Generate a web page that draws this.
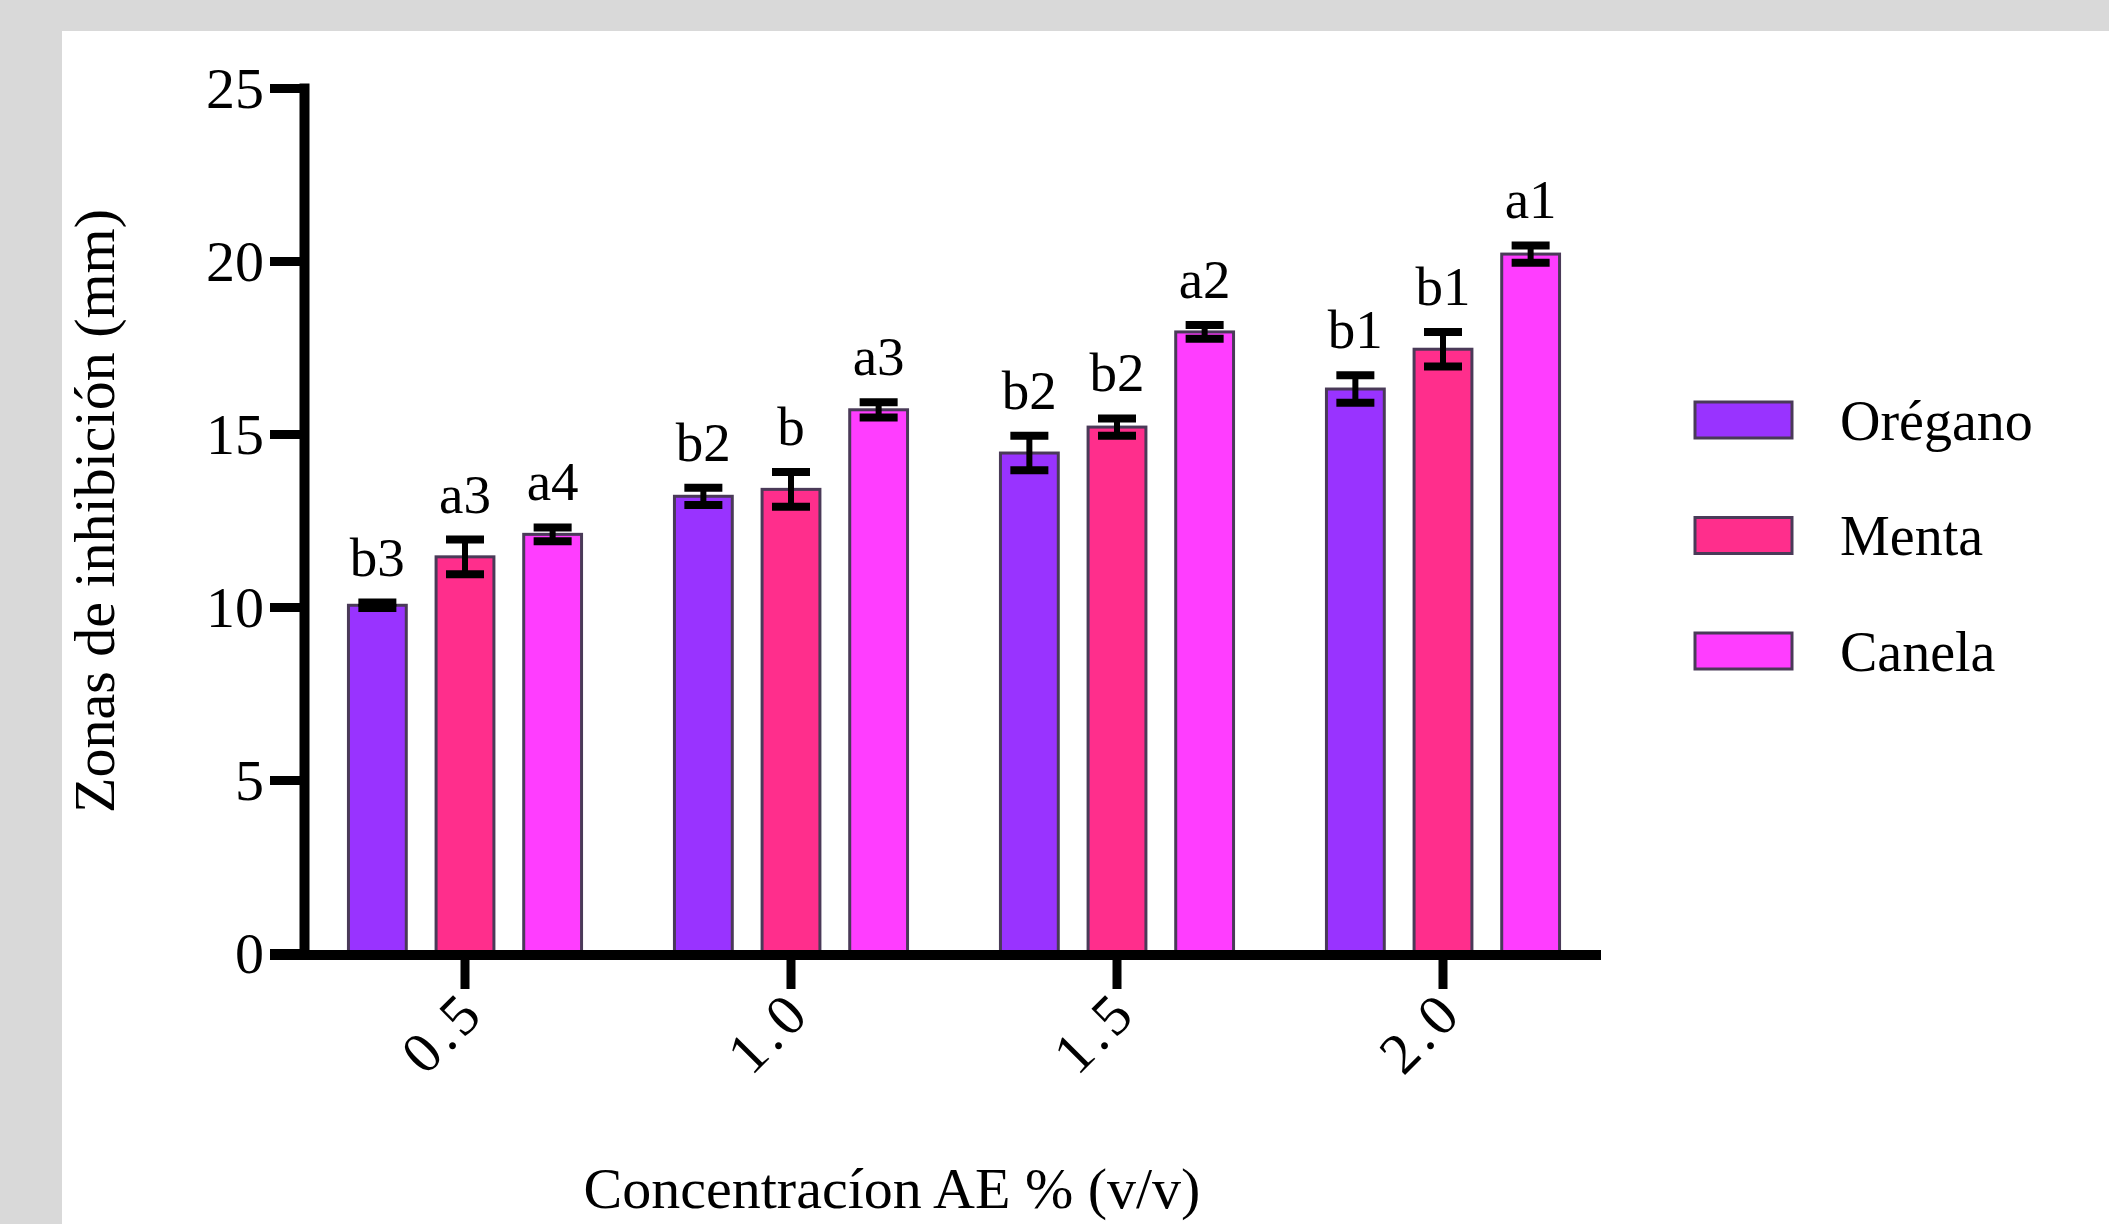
<!DOCTYPE html>
<html>
<head>
<meta charset="utf-8">
<script src="https://cdn.jsdelivr.net/npm/d3@7"></script>
<style>
  html, body { margin: 0; padding: 0; background: #d9d9d9; }
  svg { display: block; }
  text { font-family: 'Liberation Serif', 'DejaVu Serif', serif; fill: #000; }
</style>
</head>
<body>
<script>
'use strict';

// chart values
const concentrations = ['0.5', '1.0', '1.5', '2.0'];
const seriesNames = ['Orégano', 'Menta', 'Canela'];
const seriesColors = ['#9933ff', '#ff2e8c', '#ff3dff'];

const oreganoMeans = [10.05, 13.2, 14.45, 16.3];
const oreganoErrors = [0.08, 0.25, 0.5, 0.4];
const oreganoLetters = ['b3', 'b2', 'b2', 'b1'];

const mentaMeans = [11.45, 13.4, 15.2, 17.45];
const mentaErrors = [0.5, 0.5, 0.25, 0.5];
const mentaLetters = ['a3', 'b', 'b2', 'b1'];

const canelaMeans = [12.1, 15.7, 17.95, 20.2];
const canelaErrors = [0.2, 0.22, 0.2, 0.25];
const canelaLetters = ['a4', 'a3', 'a2', 'a1'];

const yTicks = [0, 5, 10, 15, 20, 25];

(function() {
  const width = 2109;
  const height = 1224;
  let svg = '';

  window.onload = function() {
    svg = d3
      .select('body')
      .append('svg')
      .attr('width', width)
      .attr('height', height);

    // white panel on the grey page
    svg
      .append('rect')
      .attr('x', 62)
      .attr('y', 31)
      .attr('width', width - 62)
      .attr('height', height - 31)
      .attr('fill', '#fff');

    // one row per bar
    const means = [oreganoMeans, mentaMeans, canelaMeans];
    const errors = [oreganoErrors, mentaErrors, canelaErrors];
    const letters = [oreganoLetters, mentaLetters, canelaLetters];
    const rows = [];
    concentrations.forEach((c, i) => {
      seriesNames.forEach((s, j) => {
        rows.push({
          conc: c,
          series: s,
          color: seriesColors[j],
          mean: means[j][i],
          err: errors[j][i],
          letter: letters[j][i],
        });
      });
    });

    const scales = makeScales();
    plotBars(rows, scales);
    drawAxes(scales);
    makeLabels();
    makeLegend();
  };

  // group scale, bar scale inside a group, and value scale
  function makeScales() {
    const x0 = d3
      .scaleBand()
      .domain(concentrations)
      .range([302, 1606])
      .padding(0);

    const x1 = d3
      .scaleBand()
      .domain(seriesNames)
      .range([0, x0.bandwidth()])
      .paddingInner(0.34)
      .paddingOuter(0.53);

    const y = d3
      .scaleLinear()
      .domain([0, 25])
      .range([953, 88]);

    return { x0: x0, x1: x1, y: y };
  }

  // bars, error bars and significance letters
  function plotBars(rows, s) {
    const g = svg.append('g');
    const barX = d => s.x0(d.conc) + s.x1(d.series);
    const midX = d => barX(d) + s.x1.bandwidth() / 2;

    g.selectAll('.bar')
      .data(rows)
      .enter()
      .append('rect')
      .attr('class', 'bar')
      .attr('x', barX)
      .attr('y', d => s.y(d.mean))
      .attr('width', s.x1.bandwidth())
      .attr('height', d => s.y(0) - s.y(d.mean))
      .attr('fill', d => d.color)
      .attr('stroke', '#4a3a58')
      .attr('stroke-width', 3);

    // vertical stems
    g.selectAll('.stem')
      .data(rows)
      .enter()
      .append('line')
      .attr('class', 'stem')
      .attr('x1', midX)
      .attr('x2', midX)
      .attr('y1', d => s.y(d.mean - d.err))
      .attr('y2', d => s.y(d.mean + d.err))
      .attr('stroke', '#000')
      .attr('stroke-width', 6);

    // caps top and bottom
    ['top', 'bottom'].forEach(side => {
      g.selectAll('.cap-' + side)
        .data(rows)
        .enter()
        .append('line')
        .attr('class', 'cap-' + side)
        .attr('x1', d => midX(d) - 19)
        .attr('x2', d => midX(d) + 19)
        .attr('y1', d => s.y(side === 'top' ? d.mean + d.err : d.mean - d.err))
        .attr('y2', d => s.y(side === 'top' ? d.mean + d.err : d.mean - d.err))
        .attr('stroke', '#000')
        .attr('stroke-width', 8);
    });

    g.selectAll('.letter')
      .data(rows)
      .enter()
      .append('text')
      .attr('class', 'letter')
      .attr('x', midX)
      .attr('y', d => s.y(d.mean + d.err) - 27)
      .attr('text-anchor', 'middle')
      .style('font-size', '55px')
      .text(d => d.letter);
  }

  // draw the axes and ticks
  function drawAxes(s) {
    const yAxis = d3
      .axisLeft(s.y)
      .tickValues(yTicks)
      .tickSize(34)
      .tickSizeOuter(0)
      .tickPadding(6);

    const gy = svg
      .append('g')
      .attr('transform', 'translate(304, 0)')
      .call(yAxis);

    gy.select('.domain')
      .attr('stroke-width', 10)
      .attr('stroke-linecap', 'square');
    gy.selectAll('.tick line').attr('stroke-width', 9);
    gy.selectAll('.tick text')
      .attr('font-family', null)
      .attr('font-size', null)
      .style('font-size', '58px')
      .attr('dy', '0.34em');

    const xAxis = d3
      .axisBottom(s.x0)
      .tickSize(34)
      .tickSizeOuter(0);

    const gx = svg
      .append('g')
      .attr('transform', 'translate(0, 955)')
      .call(xAxis);

    gx.select('.domain')
      .attr('stroke-width', 10)
      .attr('d', 'M270,0H1601');
    gx.selectAll('.tick line').attr('stroke-width', 9);
    gx.selectAll('.tick text')
      .attr('font-family', null)
      .attr('font-size', null)
      .style('font-size', '58px')
      .style('letter-spacing', '5px')
      .attr('text-anchor', 'end')
      .attr('dy', null)
      .attr('y', null)
      .attr('transform', 'translate(22, 60) rotate(-45)');
  }

  // axis titles
  function makeLabels() {
    svg
      .append('text')
      .attr('x', 892)
      .attr('y', 1208)
      .attr('text-anchor', 'middle')
      .style('font-size', '58px')
      .text('Concentracíon AE % (v/v)');

    svg
      .append('text')
      .attr('transform', 'translate(114, 511) rotate(-90)')
      .attr('text-anchor', 'middle')
      .style('font-size', '58px')
      .text('Zonas de inhibición (mm)');
  }

  // legend on the right
  function makeLegend() {
    const legend = svg
      .append('g')
      .selectAll('g')
      .data(seriesNames)
      .enter()
      .append('g')
      .attr('transform', (d, i) => 'translate(1695, ' + (420 + i * 115.5) + ')');

    legend
      .append('rect')
      .attr('x', 0)
      .attr('y', -18)
      .attr('width', 97)
      .attr('height', 36)
      .attr('fill', (d, i) => seriesColors[i])
      .attr('stroke', '#4a3a58')
      .attr('stroke-width', 3);

    legend
      .append('text')
      .attr('x', 145)
      .attr('y', 0)
      .attr('dy', '0.35em')
      .style('font-size', '56px')
      .text(d => d);
  }
})();
</script>
</body>
</html>
